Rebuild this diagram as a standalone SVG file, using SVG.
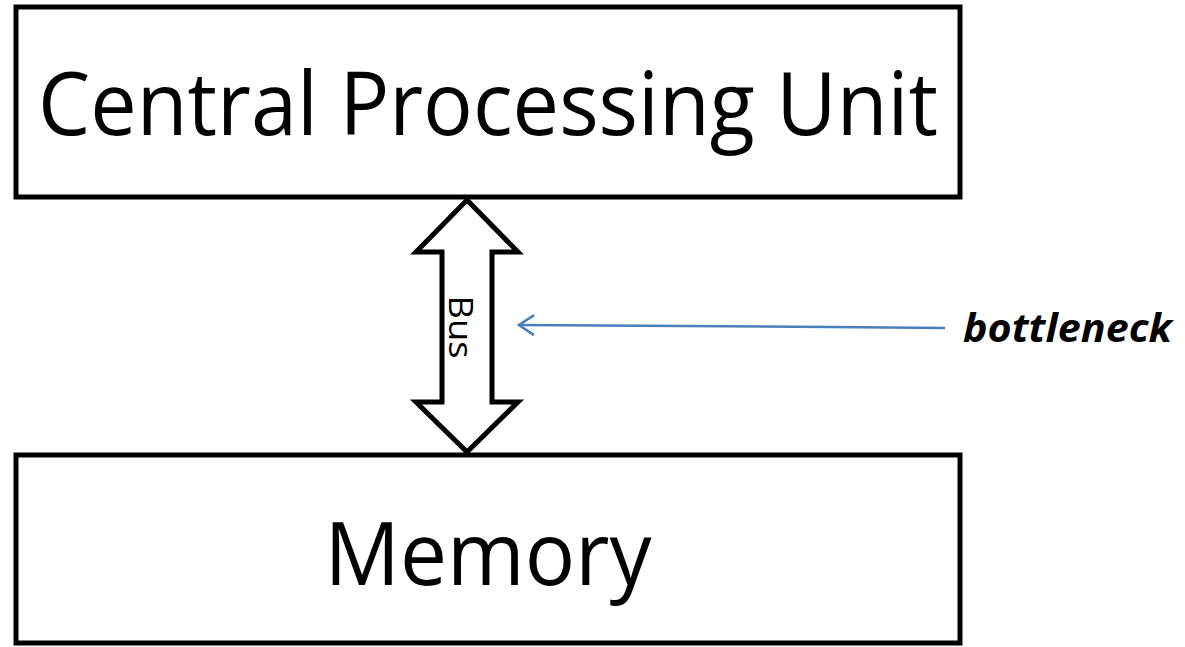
<svg xmlns="http://www.w3.org/2000/svg" width="1185" height="647" viewBox="0 0 1185 647">
<style>
.box{fill:#fff;stroke:#000;stroke-width:5}
.lbl{font-family:"Open Sans","Liberation Sans",sans-serif;fill:#000}
</style>
<defs>
<marker id="open" viewBox="0 0 20 24" refX="18" refY="12" markerWidth="20" markerHeight="24" markerUnits="userSpaceOnUse" orient="auto">
<path d="M3,2 L18,12 L3,22" fill="none" stroke="#4a7ebb" stroke-width="2.5"/>
</marker>
</defs>
<rect width="1185" height="647" fill="#fff"/>
<g id="cpu">
<rect class="box" x="16" y="7" width="944" height="190"/>
<text class="lbl" x="488" y="135" font-size="88" text-anchor="middle" textLength="900" lengthAdjust="spacingAndGlyphs">Central Processing Unit</text>
</g>
<g id="memory">
<rect class="box" x="16" y="455" width="944" height="188"/>
<text class="lbl" x="488" y="585" font-size="88" text-anchor="middle" textLength="327" lengthAdjust="spacingAndGlyphs">Memory</text>
</g>
<g id="connectors">
<g id="bus">
<path d="M467,200 L518,252 L492,252 L492,402 L518,402 L467,452 L416,402 L442,402 L442,252 L416,252 Z" fill="#fff" stroke="#000" stroke-width="5" stroke-linejoin="miter"/>
<text class="lbl" font-size="33" text-anchor="middle" textLength="63" lengthAdjust="spacingAndGlyphs" transform="translate(449,327) rotate(90)">Bus</text>
</g>
<path d="M945,328 L830,327 L519,325" fill="none" stroke="#4a7ebb" stroke-width="2.5" marker-end="url(#open)"/>
</g>
<g id="bottleneck">
<text x="963" y="342" font-family="'Open Sans','Liberation Sans',sans-serif" font-size="39" font-weight="bold" font-style="italic" textLength="209" lengthAdjust="spacingAndGlyphs">bottleneck</text>
</g>
</svg>
